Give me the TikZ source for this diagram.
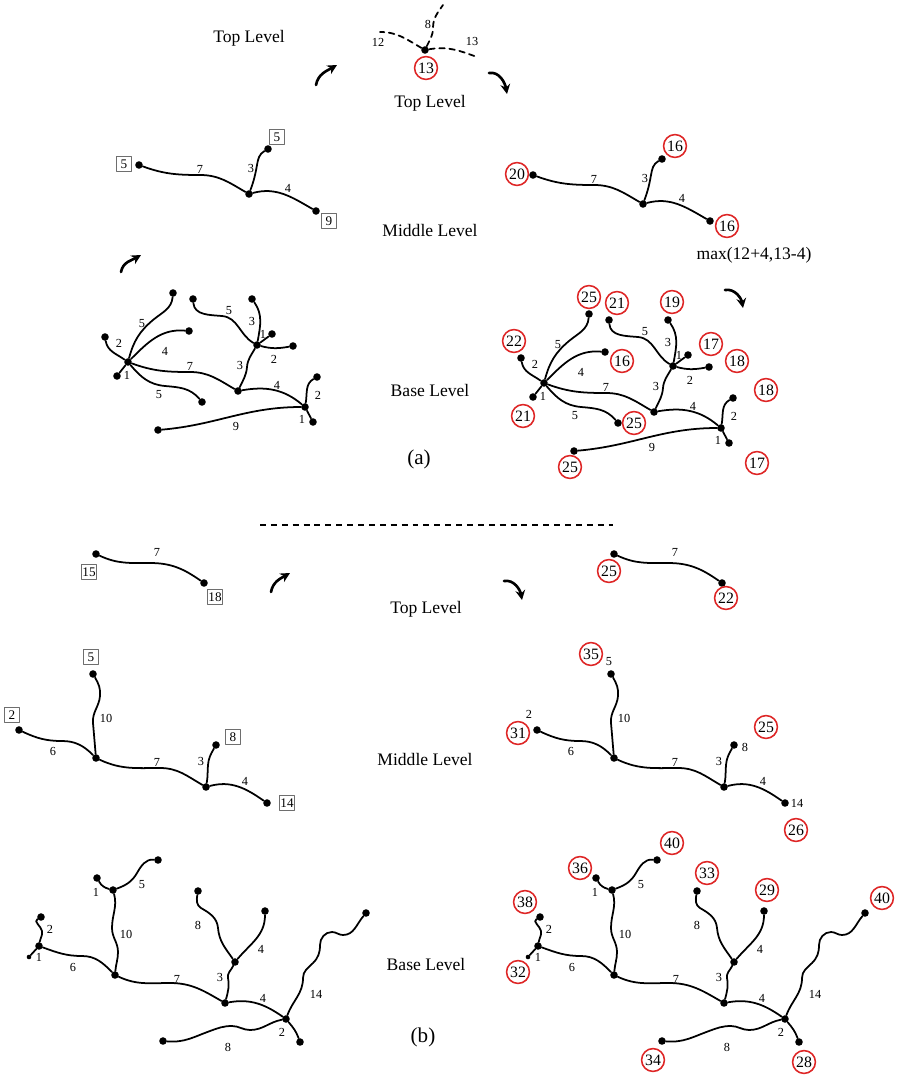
\documentclass[tikz,border=0pt]{standalone}
\usepackage{fontspec}
\setmainfont{Liberation Serif}
\usetikzlibrary{arrows.meta}
\definecolor{ring}{RGB}{222,38,38}
\definecolor{boxgray}{RGB}{110,110,110}

% middle level tree of (a)
\newcommand{\treeAmid}[1]{%
  \node[dot] (#1l) at (139,165) {};
  \node[dot] (#1h) at (249,194) {};
  \node[dot] (#1u) at (268,149) {};
  \node[dot] (#1r) at (316,211) {};
  \draw[link] (#1l) to[out=-20,in=180] (200,175) to[out=0,in=150] (#1h);
  \draw[link] (#1h) to[out=70,in=-100] (257,165) to[out=80,in=-150] (#1u);
  \draw[link] (#1h) to[out=15,in=150] (#1r);
  \foreach \x/\y/\w [count=\i] in {200/169/7, 251/168/3, 288/188/4}
    \node[wt] (#1w\i) at (\x,\y) {\w};
}

% base level tree of (a)
\newcommand{\treeAbase}[1]{%
  \node[dot] (#1a) at (128,362) {};
  \node[dot] (#1a2) at (105,337) {};
  \node[dot] (#1a1) at (117,376) {};
  \node[dot] (#1a5) at (173,293) {};
  \node[dot] (#1a4) at (189,331) {};
  \node[dot] (#1a6) at (202,402) {};
  \node[dot] (#1b) at (238,391) {};
  \node[dot] (#1c) at (257,345) {};
  \node[dot] (#1c5) at (193,299) {};
  \node[dot] (#1c3) at (252,299) {};
  \node[dot] (#1c1) at (272,334) {};
  \node[dot] (#1c2) at (293,346) {};
  \node[dot] (#1d) at (305,407) {};
  \node[dot] (#1d2) at (317,377) {};
  \node[dot] (#1d1) at (313,422) {};
  \node[dot] (#1d9) at (158,430) {};
  \draw[link] (#1a2) to[out=-80,in=145] (#1a);
  \draw[link] (#1a) -- (#1a1);
  \draw[link] (#1a) to[out=75,in=-140] (153,320) to[out=40,in=-95] (#1a5);
  \draw[link] (#1a) to[out=45,in=175] (#1a4);
  \draw[link] (#1a) to[out=-20,in=180] (190,372) to[out=0,in=150] (#1b);
  \draw[link] (#1a) to[out=-50,in=175] (165,386) to[out=-5,in=130] (#1a6);
  \draw[link] (#1b) to[out=65,in=-95] (247,367) to[out=85,in=-120] (#1c);
  \draw[link] (#1c5) to[out=-85,in=175] (222,316) to[out=-5,in=150] (#1c);
  \draw[link] (#1c3) to[out=-55,in=80] (#1c);
  \draw[link] (#1c) -- (#1c1);
  \draw[link] (#1c) to[out=-15,in=-170] (#1c2);
  \draw[link] (#1b) to[out=10,in=140] (#1d);
  \draw[link] (#1d) to[out=80,in=-150] (#1d2);
  \draw[link] (#1d) -- (#1d1);
  \draw[link] (#1d9) to[out=5,in=180] (#1d);
  \foreach \x/\y/\w [count=\i] in {119/343/2, 127/375/1, 142/324/5, 165/351/4,
      190/366/7, 159/395/5, 240/365/3, 229/311/5, 252/321/3, 263/334/1,
      274/359/2, 277/385/4, 318/395/2, 302/419/1, 236/426/9}
    \node[wt] (#1w\i) at (\x,\y) {\w};
}

% top level tree of (b)
\newcommand{\treeBtop}[1]{%
  \node[dot] (#1p) at (96,554) {};
  \node[dot] (#1q) at (204,583) {};
  \draw[link] (#1p) to[out=-25,in=180] (150,563) to[out=0,in=145] (#1q);
  \node[wt] (#1w1) at (157,552) {7};
}

% middle level tree of (b)
\newcommand{\treeBmid}[1]{%
  \node[dot] (#1a) at (96,758) {};
  \node[dot] (#1a5) at (93,674) {};
  \node[dot] (#1a2) at (19,730) {};
  \node[dot] (#1b) at (206,787) {};
  \node[dot] (#1b8) at (216,745) {};
  \node[dot] (#1b14) at (267,803) {};
  \draw[link] (#1a5) to[out=-60,in=85] (100,696) to[out=-95,in=95] (93,723) to[out=-85,in=95] (#1a);
  \draw[link] (#1a2) to[out=-25,in=180] (62,741) to[out=0,in=135] (#1a);
  \draw[link] (#1a) to[out=-25,in=180] (160,768) to[out=0,in=150] (#1b);
  \draw[link] (#1b) to[out=80,in=-95] (208,765) to[out=85,in=-120] (#1b8);
  \draw[link] (#1b) to[out=15,in=145] (#1b14);
  \foreach \x/\y/\w [count=\i] in {106/718/10, 53/751/6, 157/762/7, 201/761/3, 245/781/4}
    \node[wt] (#1w\i) at (\x,\y) {\w};
}

% base level tree of (b)
\newcommand{\treeBbase}[1]{%
  \node[dot] (#1a) at (39,946) {};
  \node[dot] (#1a2) at (41,917) {};
  \node[dot, minimum size=2.6pt] (#1a1) at (29,957) {};
  \node[dot] (#1b) at (115,975) {};
  \node[dot] (#1c) at (113,890) {};
  \node[dot] (#1c1) at (97,878) {};
  \node[dot] (#1c5) at (158,860) {};
  \node[dot] (#1d) at (225,1003) {};
  \node[dot] (#1e) at (235,962) {};
  \node[dot] (#1e8) at (198,891) {};
  \node[dot] (#1e4) at (265,911) {};
  \node[dot] (#1f) at (286,1019) {};
  \node[dot] (#1f14) at (366,913) {};
  \node[dot] (#1f2) at (300,1042) {};
  \node[dot] (#1f8) at (163,1041) {};
  \draw[link] (#1a) to[out=80,in=-80] (42,931) to[out=100,in=-150] (#1a2);
  \draw[link] (#1a) -- (#1a1);
  \draw[link] (#1a) to[out=-20,in=180] (82,956) to[out=0,in=135] (#1b);
  \draw[link] (#1b) to[out=85,in=-90] (118,952) to[out=90,in=-90] (112,928) to[out=90,in=-75] (#1c);
  \draw[link] (#1c1) to[out=-60,in=165] (#1c);
  \draw[link] (#1c) to[out=20,in=-120] (137,873) to[out=60,in=175] (#1c5);
  \draw[link] (#1b) to[out=-25,in=180] (170,983) to[out=0,in=150] (#1d);
  \draw[link] (#1d) to[out=75,in=-80] (228,978) to[out=100,in=-115] (#1e);
  \draw[link] (#1e) to[out=125,in=-85] (218,928) to[out=95,in=-30] (201,908) to[out=150,in=-100] (#1e8);
  \draw[link] (#1e) to[out=50,in=-90] (#1e4);
  \draw[link] (#1d) to[out=10,in=145] (#1f);
  \draw[link] (#1f) to[out=70,in=-90] (303,978) to[out=90,in=-135] (313,963)
    to[out=45,in=-90] (320,945) to[out=90,in=180] (332,932) to[out=0,in=180] (343,935)
    to[out=0,in=-130] (#1f14);
  \draw[link] (#1f) to[out=-50,in=110] (#1f2);
  \draw[link] (#1f8) to[out=-5,in=200] (210,1031) to[out=20,in=180] (232,1026)
    to[out=0,in=180] (250,1030) to[out=0,in=190] (#1f);
  \foreach \x/\y/\w [count=\i] in {50/929/2, 39/957/1, 73/967/6, 126/934/10,
      96/892/1, 142/885/5, 177/979/7, 220/977/3, 198/925/8, 261/949/4,
      263/998/4, 316/994/14, 282/1032/2, 228/1047/8}
    \node[wt] (#1w\i) at (\x,\y) {\w};
}

\begin{document}
\begin{tikzpicture}[x=0.02cm, y=-0.02cm, line join=round, line cap=round]
\tikzstyle{dot} = [circle, fill, inner sep=0pt, minimum size=4.3pt]
\tikzstyle{link} = [line width=1pt]
\tikzstyle{ghost} = [line width=1pt, dash pattern=on 3.2pt off 2.6pt]
\tikzstyle{wt} = [font=\fontsize{7}{8}\selectfont, inner sep=0pt]
\tikzstyle{box} = [draw=boxgray, line width=0.5pt, inner sep=0.7pt, minimum width=8.5pt,
  minimum height=8.5pt, font=\fontsize{7.5}{8}\selectfont]
\tikzstyle{val} = [circle, draw=ring, line width=0.9pt, inner sep=0pt, minimum size=13pt,
  font=\fontsize{9}{10}\selectfont]
\tikzstyle{lvl} = [font=\fontsize{10}{12}\selectfont]
\tikzstyle{hop} = [line width=1.5pt, -{Stealth[length=5.5pt,width=5.5pt]}]
\useasboundingbox (0,0) rectangle (899,1078);

% ---- (a) ----
\node[lvl] (topa1) at (249,38) {Top Level};
\node[lvl] (topa2) at (430,103) {Top Level};
\node[lvl] (mida) at (430,230) {Middle Level};
\node[lvl] (basea) at (430,390) {Base Level};
\node[font=\fontsize{12}{14}\selectfont] (capa) at (419,459) {(a)};
\node[lvl] (maxa) at (754,255) {max(12+4,13-4)};

% contracted top node
\node[dot] (top) at (425,50) {};
\coordinate (t12) at (380,32);
\coordinate (t8) at (443,5);
\coordinate (t13) at (477,57);
\draw[ghost] (top) to[out=150,in=0] (t12);
\draw[ghost] (top) to[out=65,in=-90] (433,28) to[out=90,in=-125] (t8);
\draw[ghost] (top) to[out=10,in=160] (t13);
\node[wt] (w12) at (378,42) {12};
\node[wt] (w8) at (428,24) {8};
\node[wt] (w13) at (472,41) {13};

\treeAmid{am}
\begin{scope}[shift={(394,10)}]
  \treeAmid{bm}
\end{scope}
\treeAbase{ab}
\begin{scope}[shift={(416,21)}]
  \treeAbase{bb}
\end{scope}

\draw[hop] (316,85) to[out=80,in=-150] (337,65);
\draw[hop] (489,73) to[out=10,in=100] (507,94);
\draw[hop] (121,272) to[out=80,in=-150] (141,255);
\draw[hop] (725,290) to[out=10,in=100] (743,308);

\foreach \x/\y/\v [count=\i] in {124/164/5, 277/137/5, 329/221/9}
  \node[box] (ka\i) at (\x,\y) {\v};
\foreach \x/\y/\v [count=\i] in {426/68/13, 517/174/20, 675/146/16, 727/226/16,
    589/297/25, 617/303/21, 672/302/19, 514/341/22, 622/361/16, 711/344/17,
    737/361/18, 766/390/18, 523/416/21, 634/423/25, 570/467/25, 757/463/17}
  \node[val] (ca\i) at (\x,\y) {\v};

% separator
\coordinate (sepl) at (260,525);
\coordinate (sepr) at (613,525);
\draw[line width=0.6pt, dash pattern=on 3.4pt off 2.8pt, line cap=butt] (sepl) -- (sepr);

% ---- (b) ----
\node[lvl] (topb) at (426,609) {Top Level};
\node[lvl] (midb) at (425,759) {Middle Level};
\node[lvl] (baseb) at (426,964) {Base Level};
\node[font=\fontsize{12}{14}\selectfont] (capb) at (423,1037) {(b)};

\treeBtop{at}
\treeBmid{cm}
\treeBbase{cb}
\begin{scope}[shift={(518,0)}]
  \treeBtop{bt}
  \treeBmid{dm}
\end{scope}
\begin{scope}[shift={(499,0)}]
  \treeBbase{db}
\end{scope}

\draw[hop] (271,592) to[out=80,in=-150] (290,573);
\draw[hop] (504,581) to[out=10,in=100] (522,600);

\foreach \x/\y/\w [count=\i] in {609/662/5, 529/714/2, 745/747/8, 797/803/14}
  \node[wt] (lv\i) at (\x,\y) {\w};
\foreach \x/\y/\v [count=\i] in {89/572/15, 215/597/18, 91/657/5, 12/715/2,
    233/737/8, 287/803/14}
  \node[box] (kb\i) at (\x,\y) {\v};
\foreach \x/\y/\v [count=\i] in {609/571/25, 726/598/22, 591/654/35, 518/733/31,
    766/727/25, 796/830/26, 525/902/38, 518/972/32, 580/868/36, 672/843/40,
    707/873/33, 767/890/29, 882/898/40, 804/1062/28, 653/1060/34}
  \node[val] (cb\i) at (\x,\y) {\v};
\end{tikzpicture}
\end{document}
